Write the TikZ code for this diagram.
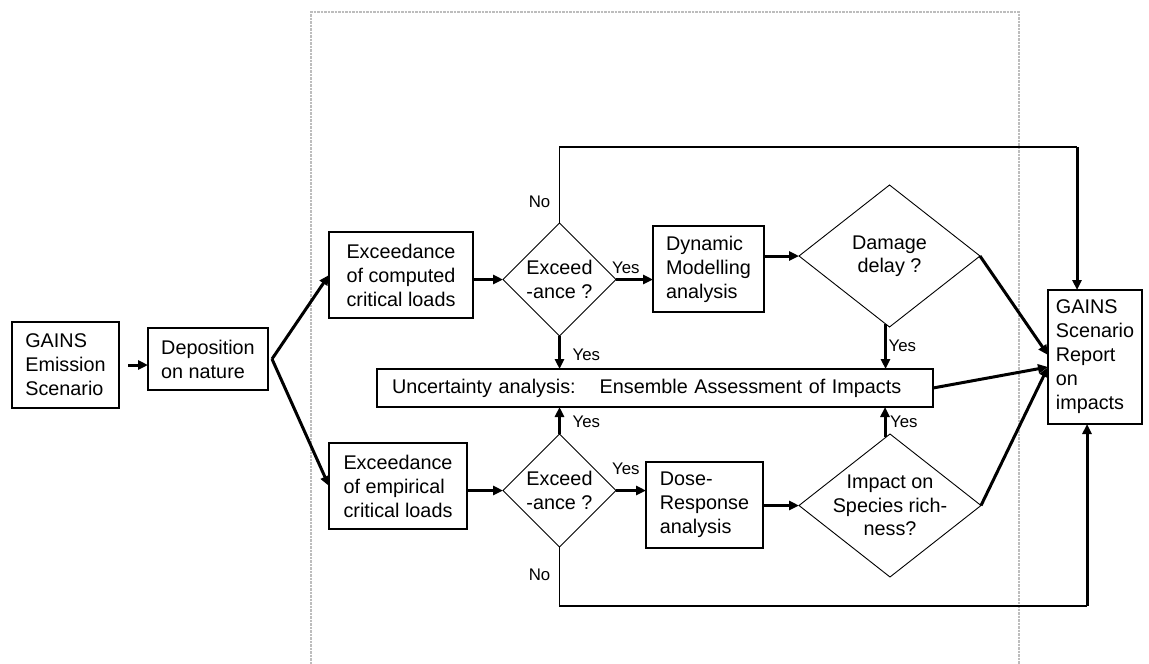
\documentclass[tikz,border=0pt]{standalone}
\usepackage{fontspec}
\setmainfont{Liberation Sans}
\usetikzlibrary{calc,arrows.meta,shapes.geometric}
\tikzset{
  every picture/.style={line join=miter},
  box/.style={rectangle,draw,line width=1.3pt,inner sep=2pt,outer sep=0pt,
    align=left,font=\fontsize{19.8}{24}\selectfont},
  decision/.style={diamond,draw,line width=.9pt,inner sep=-14pt,outer sep=0pt,
    align=center,font=\fontsize{19.8}{23.5}\selectfont},
  flow/.style={-{Triangle[length=10pt,width=9pt]},line width=3pt},
  route/.style={line width=1.5pt},
  lab/.style={font=\fontsize{16.8}{17}\selectfont,inner sep=0pt},
  frame/.style={dash pattern=on 2.5pt off 1pt,line width=2.5pt,draw=black!26}
}
\begin{document}
\begin{tikzpicture}[x=1pt,y=-1pt]
  \useasboundingbox (0,0) rectangle (1149,664);
  \draw[frame] (311,664) -- (311,12) -- (1019,12) -- (1019,664);

  % Scenario input and the two exceedance branches.
  \node[box,minimum width=107pt,minimum height=86pt] (gains) at (65.5,365)
    {GAINS\\Emission\\Scenario};
  \node[box,minimum width=120pt,minimum height=62pt] (dep) at (208,359)
    {Deposition\\on nature};
  \node[box,minimum width=144pt,minimum height=86pt] (exccl) at (401,275)
    {Exceedance\\of computed\\critical loads};
  \node[box,minimum width=138pt,minimum height=86pt] (excel) at (398,486)
    {Exceedance\\of empirical\\critical loads};
  \node[decision,minimum width=113pt,minimum height=113pt] (dcl) at (559.5,279.5)
    {Exceed\\-ance ?};
  \node[decision,minimum width=113pt,minimum height=113pt] (del) at (559.5,490.5)
    {Exceed\\-ance ?};
  \node[box,minimum width=111pt,minimum height=86pt] (dyn) at (708.5,269)
    {Dynamic\\Modelling\\analysis};
  \node[box,minimum width=117pt,minimum height=86pt] (dose) at (704.5,505)
    {Dose-\\Response\\analysis};
  \node[decision,minimum width=181pt,minimum height=142pt] (delay) at (889.5,256)
    {Damage\\delay ?};
  \node[decision,minimum width=182pt,minimum height=143pt] (rich) at (890,505.5)
    {Impact on\\Species rich-\\ness?};
  \node[box,minimum width=556pt,minimum height=38pt,text width=526pt,
    inner xsep=15pt] (unc) at (655,388)
    {Uncertainty analysis:\hspace{24pt}Ensemble Assessment of Impacts};
  \node[box,minimum width=94pt,minimum height=134pt] (rep) at (1095,357)
    {GAINS\\Scenario\\Report\\on\\impacts};

  % Main flow.
  \coordinate (split) at ([xshift=4pt]dep.east);
  \draw[flow] ([xshift=9pt]gains.east) -- (gains.east -| dep.west);
  \draw[flow] (split) -- (exccl.west);
  \draw[flow] (split) -- (excel.west);
  \draw[flow] (exccl.east |- dcl) -- (dcl.west);
  \draw[flow] (excel.east |- del) -- (del.west);
  \draw[flow] (dcl.east) -- (dcl.east -| dyn.west);
  \draw[flow] (del.east) -- (del.east -| dose.west);
  \draw[flow] (dyn.east |- delay) -- (delay.west);
  \draw[flow] (dose.east |- rich) -- (rich.west);
  \node[lab,anchor=base west] at ($(dcl.east)+(-4,-6)$) {Yes};
  \node[lab,anchor=base west] at ($(del.east)+(-4,-16)$) {Yes};

  % Yes answers into the ensemble assessment.
  \coordinate (dlyout) at ([xshift=-4pt,yshift=3pt]delay.south);
  \coordinate (richout) at ([xshift=-5pt,yshift=-3pt]rich.north);
  \draw[flow] (dcl.south) -- (dcl.south |- unc.north);
  \draw[flow] (del.north) -- (del.north |- unc.south);
  \draw[flow] (dlyout) -- (dlyout |- unc.north);
  \draw[flow] (richout) -- (richout |- unc.south);
  \node[lab,anchor=base west] at ($(dcl.south |- unc.north)+(13,-9)$) {Yes};
  \node[lab,anchor=base west] at ($(del.north |- unc.south)+(13,20)$) {Yes};
  \node[lab,anchor=base west] at ($(dlyout |- unc.north)+(3,-18)$) {Yes};
  \node[lab,anchor=base west] at ($(richout |- unc.south)+(5,20)$) {Yes};

  % Everything ends in the report.
  \draw[flow] (delay.east) -- ([yshift=2pt]rep.west);
  \draw[flow] (unc.east) -- ([yshift=-10pt]rep.west);
  \draw[flow] (rich.east) -- ([yshift=-10pt]rep.west);

  % No answers bypass the analysis.
  \coordinate (topturn) at (1077,147);
  \coordinate (botturn) at (1087,606);
  \draw[route] (dcl.north) |- (topturn);
  \draw[flow] (topturn) -- (topturn |- rep.north);
  \draw[route] (del.south) |- (botturn);
  \draw[flow] (botturn) -- (botturn |- rep.south);
  \node[lab,anchor=base east] at ($(dcl.north)+(-9,-16)$) {No};
  \node[lab,anchor=base east] at ($(del.south)+(-9,33)$) {No};
\end{tikzpicture}
\end{document}
